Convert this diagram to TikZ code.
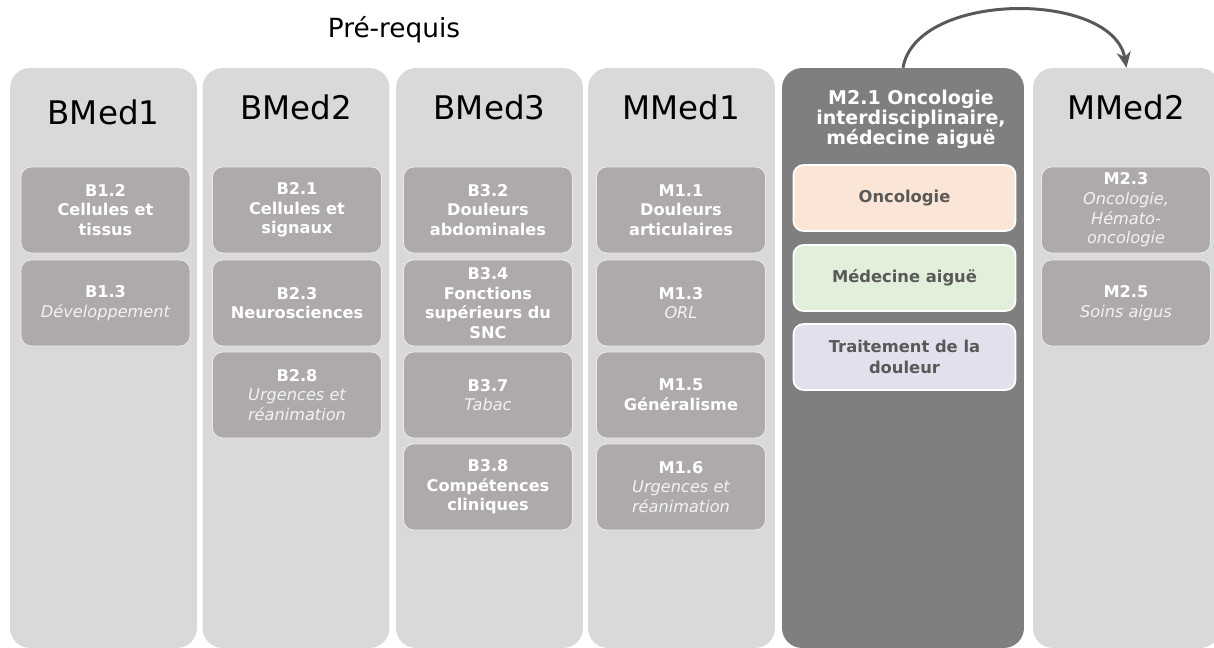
\documentclass[tikz,border=0pt]{standalone}
\usepackage{fontspec}
\setmainfont{DejaVu Sans}
\usetikzlibrary{arrows.meta}

\definecolor{colgray}{HTML}{D9D9D9}
\definecolor{uegray}{HTML}{AEAAAA}
\definecolor{ueline}{HTML}{EAE8E8}
\definecolor{darkcol}{HTML}{7F7F7F}
\definecolor{italgray}{HTML}{F2F2F2}
\definecolor{topictext}{HTML}{595959}
\definecolor{oncofill}{HTML}{FBE5D6}
\definecolor{medfill}{HTML}{E2EFDA}
\definecolor{douleurfill}{HTML}{E4DFEC}

\newcommand{\soustitre}[1]{{\mdseries\itshape\color{italgray}#1}}

\tikzset{
  year/.style={fill=colgray, rounded corners=0.4cm, inner sep=0pt,
    minimum width=3.74cm, minimum height=11.6cm},
  yearhead/.style={font=\fontsize{18.5}{22}\selectfont, text=black},
  ue/.style={fill=uegray, draw=ueline, line width=0.5pt, rounded corners=0.2cm,
    minimum width=3.38cm, minimum height=1.72cm, inner sep=0pt, align=center,
    text=white, font=\fontsize{9.2}{11.2}\selectfont\bfseries},
  topic/.style={draw=white, line width=1pt, rounded corners=0.2cm,
    minimum width=4.44cm, minimum height=1.32cm, inner sep=0pt, align=center,
    text=topictext, font=\fontsize{9.3}{12}\selectfont\bfseries},
  suite/.style={-{Stealth[length=9pt,width=8pt]}, draw=topictext, line width=1.7pt}
}

\begin{document}
\begin{tikzpicture}[x=0.02cm,y=-0.02cm]
\clip (0,0) rectangle (1214,648);

\node[font=\fontsize{15}{18}\selectfont] (prereq) at (394,30) {Pré-requis};

% colonnes
\node[year] (bmed1) at (103.5,358) {};
\node[year] (bmed2) at (296,358) {};
\node[year] (bmed3) at (489.5,358) {};
\node[year] (mmed1) at (681.5,358) {};
\node[year, fill=darkcol, minimum width=4.84cm] (m21) at (903,358) {};
\node[year] (mmed2) at (1126.5,358) {};

\node[yearhead] (h1) at (103.5,112.5) {BMed1};
\node[yearhead] (h2) at (296,107) {BMed2};
\node[yearhead] (h3) at (489.5,107) {BMed3};
\node[yearhead] (h4) at (681.5,107) {MMed1};
\node[yearhead] (h6) at (1126.5,107) {MMed2};
\node[align=center, text=white, font=\fontsize{10.8}{11.4}\selectfont\bfseries] (h5) at (911,119)
  {M2.1 Oncologie\\interdisciplinaire,\\médecine aiguë};

% BMed1
\node[ue] (b12) at (105.5,210) {B1.2\\Cellules et\\tissus};
\node[ue] (b13) at (105.5,303) {B1.3\\\soustitre{Développement}};

% BMed2
\node[ue] (b21) at (297,210) {B2.1\\Cellules et\\signaux};
\node[ue] (b23) at (297,303) {B2.3\\Neurosciences};
\node[ue] (b28) at (297,395) {B2.8\\\soustitre{Urgences et}\\\soustitre{réanimation}};

% BMed3
\node[ue] (b32) at (488,210) {B3.2\\Douleurs\\abdominales};
\node[ue] (b34) at (488,303) {B3.4\\Fonctions\\supérieurs du\\SNC};
\node[ue] (b37) at (488,395) {B3.7\\\soustitre{Tabac}};
\node[ue] (b38) at (488,487) {B3.8\\Compétences\\cliniques};

% MMed1
\node[ue] (m11) at (681,210) {M1.1\\Douleurs\\articulaires};
\node[ue] (m13) at (681,303) {M1.3\\\soustitre{ORL}};
\node[ue] (m15) at (681,395) {M1.5\\Généralisme};
\node[ue] (m16) at (681,487) {M1.6\\\soustitre{Urgences et}\\\soustitre{réanimation}};

% M2.1
\node[topic, fill=oncofill] (onco) at (904.5,198) {Oncologie};
\node[topic, fill=medfill] (aigue) at (904.5,278) {Médecine aiguë};
\node[topic, fill=douleurfill] (douleur) at (904.5,357) {Traitement de la\\douleur};

% MMed2
\node[ue] (m23) at (1126,210) {M2.3\\\soustitre{Oncologie,}\\\soustitre{Hémato-}\\\soustitre{oncologie}};
\node[ue] (m25) at (1126,303) {M2.5\\\soustitre{Soins aigus}};

\draw[suite] (m21.north) to[out=80,in=100,looseness=0.9] (mmed2.north);

\end{tikzpicture}
\end{document}
